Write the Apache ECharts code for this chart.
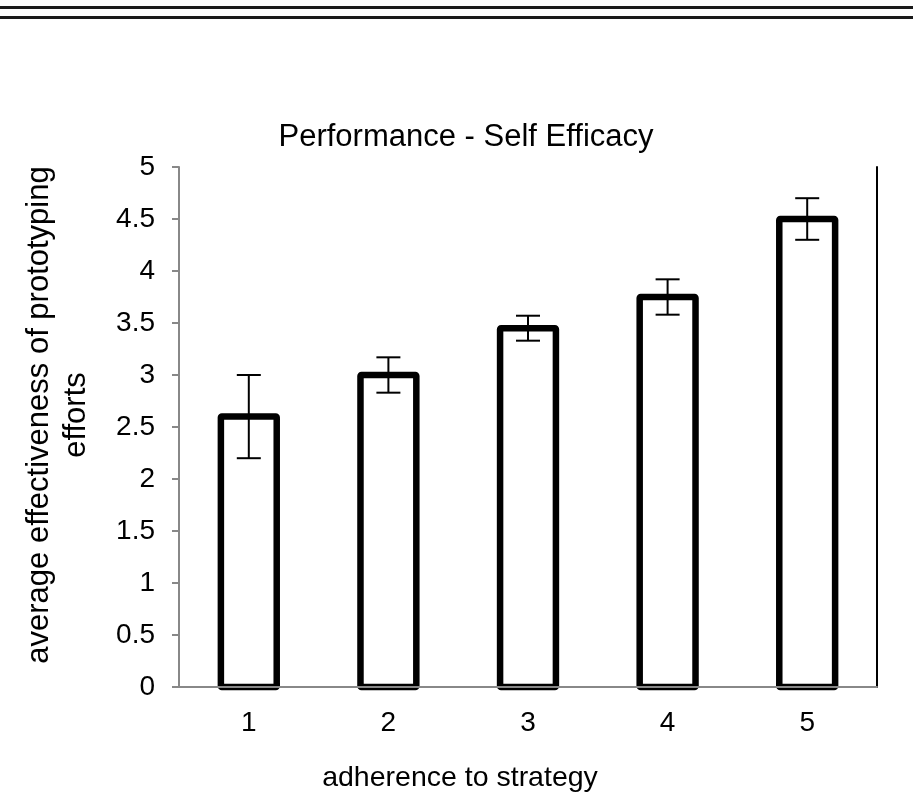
<!DOCTYPE html>
<html style="height:100%">
<head>
<meta charset="utf-8">
<script src="https://cdn.jsdelivr.net/npm/echarts@6/dist/echarts.min.js"></script>
</head>
<body style="height:100%; margin:0; background:#fff">
<div id="container" style="width:913px; height:807px"></div>
<script type="text/javascript">
// values
var categories = ['1', '2', '3', '4', '5'];
var means = [2.6, 3.0, 3.45, 3.75, 4.5];
var errors = [0.4, 0.17, 0.12, 0.17, 0.2];

var font = "'Liberation Sans', Arial, Helvetica, sans-serif";

var barData = means.map(function (m, i) { return [i, m]; });
var errData = means.map(function (m, i) {
    return [i, m - errors[i], m + errors[i]];
});

var dom = document.getElementById('container');
var myChart = echarts.init(dom);

var option = {
    animation: false,
    backgroundColor: '#fff',
    title: {
        text: 'Performance - Self Efficacy',
        left: 461,
        top: 117,
        textAlign: 'center',
        textStyle: { fontFamily: font, fontSize: 31, fontWeight: 'normal', color: '#000' }
    },
    graphic: [
        { type: 'line', shape: { x1: 0, y1: 7.5, x2: 913, y2: 7.5 }, style: { stroke: '#1a1a1a', lineWidth: 3 } },
        { type: 'line', shape: { x1: 0, y1: 17.5, x2: 913, y2: 17.5 }, style: { stroke: '#1a1a1a', lineWidth: 3 } }
    ],
    grid: { left: 179, right: 36, top: 167, bottom: 120 },
    xAxis: [{
        type: 'category',
        data: categories,
        z: 5,
        axisLine: { lineStyle: { color: '#888', width: 2 } },
        axisTick: { length: 7, lineStyle: { color: '#888', width: 2 } },
        axisLabel: { color: '#000', fontSize: 28, fontFamily: font, margin: 22 },
        name: 'adherence to strategy',
        nameLocation: 'middle',
        nameGap: 77,
        nameTextStyle: { color: '#000', fontSize: 28.5, fontFamily: font, padding: [0, 136, 0, 0] }
    }, {
        type: 'category',
        data: categories,
        position: 'top',
        axisLine: { lineStyle: { color: '#000', width: 2 } },
        axisTick: { show: false },
        axisLabel: { show: false }
    }],
    yAxis: [{
        type: 'value',
        min: 0,
        max: 5,
        interval: 0.5,
        z: 5,
        splitLine: { show: false },
        axisLine: { show: true, lineStyle: { color: '#888', width: 2 } },
        axisTick: { show: true, length: 7, lineStyle: { color: '#888', width: 2 } },
        axisLabel: { color: '#000', fontSize: 28, fontFamily: font, margin: 24 },
        name: 'average effectiveness of prototyping\nefforts',
        nameLocation: 'middle',
        nameRotate: 90,
        nameGap: 84,
        nameTextStyle: { color: '#000', fontSize: 31, fontFamily: font, lineHeight: 37, padding: [0, 0, 0, 24] }
    }, {
        type: 'value',
        min: 0,
        max: 5,
        interval: 0.5,
        position: 'right',
        splitLine: { show: false },
        axisLine: { show: true, lineStyle: { color: '#000', width: 2 } },
        axisTick: { show: false },
        axisLabel: { show: false }
    }],
    series: [{
        // open bars, outline centred on the value like the original
        type: 'custom',
        data: barData,
        z: 2,
        renderItem: function (params, api) {
            var top = api.coord([api.value(0), api.value(1)]);
            var base = api.coord([api.value(0), 0]);
            var w = api.size([1, 0])[0] * 0.4;
            return {
                type: 'rect',
                shape: { x: top[0] - w / 2, y: top[1], width: w, height: base[1] - top[1], r: 1 },
                style: { fill: '#fff', stroke: '#000', lineWidth: 6.5, lineJoin: 'round' }
            };
        }
    }, {
        type: 'custom',
        data: errData,
        z: 4,
        renderItem: function (params, api) {
            var x = api.value(0);
            var lo = api.coord([x, api.value(1)]);
            var hi = api.coord([x, api.value(2)]);
            var half = 12;
            var st = { stroke: '#000', lineWidth: 2 };
            return {
                type: 'group',
                children: [
                    { type: 'line', shape: { x1: hi[0], y1: hi[1], x2: lo[0], y2: lo[1] }, style: st },
                    { type: 'line', shape: { x1: hi[0] - half, y1: hi[1], x2: hi[0] + half, y2: hi[1] }, style: st },
                    { type: 'line', shape: { x1: lo[0] - half, y1: lo[1], x2: lo[0] + half, y2: lo[1] }, style: st }
                ]
            };
        }
    }]
};

myChart.setOption(option);
</script>
</body>
</html>
